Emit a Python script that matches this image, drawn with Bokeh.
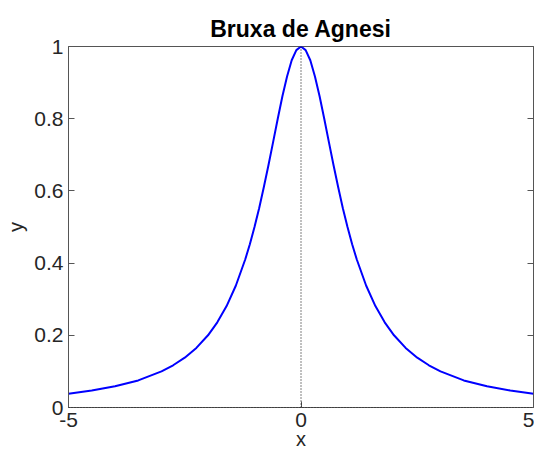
from bokeh.plotting import figure
from bokeh.models import LinearAxis, Span, FixedTicker, Range1d, PrintfTickFormatter
from bokeh.embed import file_html
from bokeh.resources import INLINE

# Curve values (Witch of Agnesi)
x_vals = [-5.0, -4.5, -4.0, -3.5, -3.0, -2.75, -2.5, -2.25, -2.0, -1.8, -1.6, -1.4,
          -1.2, -1.1, -1.0, -0.9, -0.8, -0.7, -0.6, -0.5, -0.4, -0.3, -0.2, -0.1,
          0.0, 0.1, 0.2, 0.3, 0.4, 0.5, 0.6, 0.7, 0.8, 0.9, 1.0, 1.1, 1.2, 1.4,
          1.6, 1.8, 2.0, 2.25, 2.5, 2.75, 3.0, 3.5, 4.0, 4.5, 5.0]
y_vals = [0.038, 0.047, 0.059, 0.075, 0.100, 0.117, 0.138, 0.165, 0.200, 0.236, 0.281, 0.338,
          0.410, 0.452, 0.500, 0.552, 0.610, 0.671, 0.735, 0.800, 0.862, 0.917, 0.962, 0.990,
          1.000, 0.990, 0.962, 0.917, 0.862, 0.800, 0.735, 0.671, 0.610, 0.552, 0.500, 0.452, 0.410, 0.338,
          0.281, 0.236, 0.200, 0.165, 0.138, 0.117, 0.100, 0.075, 0.059, 0.047, 0.038]
x_ticks = [-5, 0, 5]
y_ticks = [0, 0.2, 0.4, 0.6, 0.8, 1]
title_text = "Bruxa de Agnesi"
x_label = "x"
y_label = "y"

FONT = "Liberation Sans"
AX_COL = "#555555"
TXT_COL = "#262626"

p = figure(width=534, height=452, output_backend="svg", toolbar_location=None,
           x_range=Range1d(-5, 5), y_range=Range1d(0, 1),
           min_border_left=68, min_border_right=1, min_border_top=46, min_border_bottom=0,
           x_axis_label=x_label, y_axis_label=y_label)
p.outline_line_color = AX_COL
p.outline_line_width = 1
p.grid.visible = False
p.background_fill_color = "white"
p.border_fill_color = "white"

p.title.text = title_text
p.title.align = "center"
p.title.text_font = FONT
p.title.text_font_size = "23px"
p.title.text_font_style = "bold"
p.title.text_color = "black"
p.title.standoff = 9

for ax in (p.xaxis[0], p.yaxis[0]):
    ax.axis_line_color = AX_COL
    ax.major_tick_line_color = AX_COL
    ax.major_tick_in = 6
    ax.major_tick_out = 0
    ax.minor_tick_line_color = None
    ax.major_label_text_font = FONT
    ax.major_label_text_font_size = "21px"
    ax.major_label_text_color = TXT_COL
    ax.axis_label_text_font = FONT
    ax.axis_label_text_font_size = "20px"
    ax.axis_label_text_font_style = "normal"
    ax.axis_label_text_color = TXT_COL

p.xaxis[0].ticker = FixedTicker(ticks=x_ticks)
p.xaxis[0].formatter = PrintfTickFormatter(format="%d")
p.yaxis[0].ticker = FixedTicker(ticks=y_ticks)
p.xaxis[0].major_label_standoff = 5
p.xaxis[0].axis_label_standoff = -2
p.yaxis[0].major_label_standoff = 5
p.yaxis[0].axis_label_standoff = 4

right = LinearAxis(ticker=FixedTicker(ticks=y_ticks),
                   major_label_overrides={t: "" for t in y_ticks},
                   axis_line_color=AX_COL, major_tick_line_color=AX_COL,
                   major_tick_in=6, major_tick_out=0, minor_tick_line_color=None,
                   major_label_standoff=0)
p.add_layout(right, "right")

p.add_layout(Span(location=0, dimension="height", line_color="black",
                  line_dash="1 2", line_width=1))
p.add_layout(Span(location=0, dimension="width", line_color="black",
                  line_dash="1 2", line_width=1))

p.line(x_vals, y_vals, line_color="#0000ff", line_width=2)

open("out.html", "w").write(file_html(p, INLINE))
